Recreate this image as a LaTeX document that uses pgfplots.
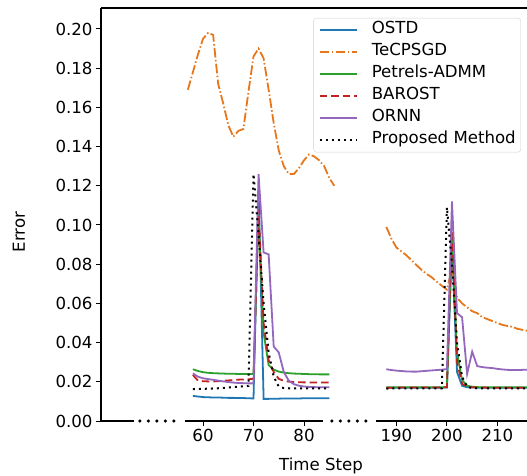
\documentclass[border=0pt]{standalone}
\usepackage{fontspec}
\setmainfont{DejaVu Sans}
\usepackage{pgfplots}
\usepackage{pgfplotstable}
\pgfplotsset{compat=1.18}

\definecolor{cblue}{HTML}{1F77B4}
\definecolor{corange}{HTML}{E8761A}
\definecolor{cgreen}{HTML}{2CA02C}
\definecolor{cred}{HTML}{C0221F}
\definecolor{cpurple}{HTML}{9467BD}

% left segment (time steps as read)
\pgfplotstableread{
x ostd tec pet bar ornn prop
57 nan 0.169 nan nan nan nan
58 0.0128 0.178 0.0264 0.0235 0.0243 0.0162
59 0.0125 0.187 0.0255 0.0206 0.0226 0.0163
60 0.0122 0.195 0.0249 0.0203 0.0218 0.0164
61 0.0121 0.198 0.0246 0.0202 0.0214 0.0165
62 0.0120 0.197 0.0244 0.0202 0.0210 0.0166
63 0.0120 0.172 0.0243 0.0203 0.0206 0.0167
64 0.0119 0.162 0.0242 0.0205 0.0202 0.0169
65 0.0118 0.151 0.0241 0.0207 0.0199 0.0171
66 0.0118 0.145 0.0241 0.0209 0.0196 0.0173
67 0.0117 0.148 0.0240 0.0211 0.0194 0.0175
68 0.0117 0.149 0.0240 0.0212 0.0193 0.0177
69 0.0116 0.168 0.0240 0.0213 0.0192 0.0179
70 0.0115 0.186 0.0240 0.0215 0.0192 0.1260
71 0.1180 0.190 0.1050 0.1080 0.1260 0.0950
72 0.0113 0.185 0.0450 0.0500 0.0860 0.0600
73 0.0113 0.169 0.0285 0.0310 0.0850 0.0350
74 0.0114 0.152 0.0262 0.0250 0.0380 0.0226
75 0.0114 0.138 0.0252 0.0215 0.0350 0.0176
76 0.0115 0.130 0.0247 0.0205 0.0250 0.0168
77 0.0115 0.126 0.0244 0.0201 0.0205 0.0167
78 0.0115 0.126 0.0242 0.0199 0.0188 0.0167
79 0.0115 0.129 0.0241 0.0198 0.0180 0.0167
80 0.0116 0.133 0.0240 0.0197 0.0176 0.0167
81 0.0116 0.136 0.0239 0.0197 0.0174 0.0167
82 0.0116 0.135 0.0239 0.0196 0.0173 0.0167
83 0.0116 0.133 0.0238 0.0196 0.0172 0.0167
84 0.0116 0.130 0.0238 0.0196 0.0172 0.0167
85 0.0116 0.124 0.0238 0.0196 0.0172 0.0167
86 nan 0.120 nan nan nan nan
}\leftdata

% right segment (real time steps; drawn shifted by 91.7 for the axis break)
\pgfplotstableread{
x ostd tec pet bar ornn prop
188 0.0170 0.0990 0.0172 0.0170 0.0264 0.0165
189 0.0170 0.0930 0.0172 0.0170 0.0260 0.0166
190 0.0170 0.0885 0.0172 0.0170 0.0257 0.0166
191 0.0170 0.0865 0.0172 0.0171 0.0255 0.0166
192 0.0170 0.0845 0.0172 0.0171 0.0253 0.0166
193 0.0170 0.0820 0.0172 0.0171 0.0252 0.0166
194 0.0170 0.0795 0.0172 0.0171 0.0252 0.0166
195 0.0170 0.0770 0.0172 0.0171 0.0254 0.0166
196 0.0170 0.0750 0.0172 0.0171 0.0256 0.0166
197 0.0170 0.0733 0.0172 0.0171 0.0258 0.0166
198 0.0170 0.0710 0.0172 0.0171 0.0260 0.0166
199 0.0170 0.0690 0.0172 0.0172 0.0262 0.0167
200 0.0171 0.0670 0.0173 0.0172 0.0265 0.1090
201 0.0900 0.0780 0.0950 0.1000 0.1120 0.0800
202 0.0250 0.0630 0.0350 0.0300 0.0550 0.0400
203 0.0180 0.0600 0.0210 0.0190 0.0530 0.0226
204 0.0172 0.0580 0.0180 0.0175 0.0240 0.0175
205 0.0171 0.0560 0.0175 0.0172 0.0354 0.0168
206 0.0170 0.0550 0.0173 0.0171 0.0280 0.0167
207 0.0170 0.0530 0.0172 0.0171 0.0275 0.0166
208 0.0170 0.0520 0.0172 0.0170 0.0272 0.0166
209 0.0170 0.0510 0.0172 0.0170 0.0270 0.0166
210 0.0170 0.0500 0.0172 0.0170 0.0266 0.0166
211 0.0170 0.0490 0.0172 0.0170 0.0263 0.0166
212 0.0170 0.0485 0.0172 0.0170 0.0261 0.0166
213 0.0170 0.0480 0.0172 0.0170 0.0260 0.0166
214 0.0170 0.0470 0.0172 0.0170 0.0260 0.0166
215 0.0170 0.0465 0.0172 0.0170 0.0261 0.0166
216 0.0170 0.0460 0.0172 0.0170 0.0262 0.0166
217 0.0170 0.0455 0.0172 0.0170 0.0264 0.0166
}\rightdata

\pgfplotsset{
  sOSTD/.style={draw=cblue, line width=1.8pt, solid},
  sTEC/.style={draw=corange, line width=1.8pt, dash pattern=on 9.6pt off 2.4pt on 1.5pt off 2.4pt},
  sPET/.style={draw=cgreen, line width=1.8pt, solid},
  sBAR/.style={draw=cred, line width=1.8pt, dash pattern=on 7.5pt off 4pt},
  sORNN/.style={draw=cpurple, line width=1.8pt, solid},
  sPROP/.style={draw=black, line width=2pt, dash pattern=on 2pt off 4pt},
}

\begin{document}
\begin{tikzpicture}
\useasboundingbox (-101pt,-54pt) rectangle (426pt,421pt);
\begin{axis}[
  at={(0pt,0pt)}, anchor=south west,
  scale only axis, width=440pt, height=413pt,
  xmin=39.8, xmax=126.93, ymin=0, ymax=0.2107,
  axis lines=left, axis line style={-, line width=1.2pt},
  x axis line style={draw=none},
  clip mode=individual,
  tick align=outside, major tick length=5pt,
  every tick/.style={black, line width=1pt},
  xtick={60,70,80,98.3,108.3,118.3},
  xticklabels={60,70,80,190,200,210},
  ytick={0,0.02,0.04,0.06,0.08,0.10,0.12,0.14,0.16,0.18,0.20},
  scaled y ticks=false,
  yticklabel style={/pgf/number format/.cd, fixed, fixed zerofill, precision=2},
  /pgf/number format/assume math mode=true,
  tick label style={font=\fontsize{16.6}{20}\selectfont},
  label style={font=\fontsize{16.6}{20}\selectfont},
  xlabel={Time Step},
  x label style={at={(rel axis cs:0.5,0)}, anchor=base, yshift=-49pt},
  ylabel={Error},
  y label style={at={(rel axis cs:0,0.4576)}, anchor=base, yshift=76pt},
  legend style={at={(rel axis cs:0.9545,0.9758)}, anchor=north east,
    draw=black!18, rounded corners=3pt, fill=white,
    font=\fontsize{16.6}{20}\selectfont, inner xsep=5pt, inner ysep=1pt,
    nodes={inner xsep=0pt, inner ysep=0pt, text height=14pt, text depth=8pt},
    row sep=0pt,
    /tikz/every odd column/.append style={column sep=14pt}},
  legend cell align=left,
  legend image code/.code={\path[#1, line width=2.2pt] (0pt,0pt) -- (37pt,0pt);},
]
\addlegendimage{sOSTD}\addlegendentry{OSTD}
\addlegendimage{sTEC}\addlegendentry{TeCPSGD}
\addlegendimage{sPET}\addlegendentry{Petrels-ADMM}
\addlegendimage{sBAR}\addlegendentry{BAROST}
\addlegendimage{sORNN}\addlegendentry{ORNN}
\addlegendimage{sPROP}\addlegendentry{Proposed Method}
% OSTD
\addplot[sOSTD, forget plot] table[x=x, y=ostd] {\leftdata};
\addplot[sOSTD, forget plot] table[x expr=\thisrow{x}-91.7, y=ostd] {\rightdata};
% TeCPSGD
\addplot[sTEC, forget plot] table[x=x, y=tec] {\leftdata};
\addplot[sTEC, forget plot] table[x expr=\thisrow{x}-91.7, y=tec] {\rightdata};
% Petrels-ADMM
\addplot[sPET, forget plot] table[x=x, y=pet] {\leftdata};
\addplot[sPET, forget plot] table[x expr=\thisrow{x}-91.7, y=pet] {\rightdata};
% BAROST
\addplot[sBAR, forget plot] table[x=x, y=bar] {\leftdata};
\addplot[sBAR, forget plot] table[x expr=\thisrow{x}-91.7, y=bar] {\rightdata};
% ORNN
\addplot[sORNN, forget plot] table[x=x, y=ornn] {\leftdata};
\addplot[sORNN, forget plot] table[x expr=\thisrow{x}-91.7, y=ornn] {\rightdata};
% Proposed
\addplot[sPROP, forget plot] table[x=x, y=prop] {\leftdata};
\addplot[sPROP, forget plot] table[x expr=\thisrow{x}-91.7, y=prop] {\rightdata};
% broken x axis and top spine
\draw[line width=1.2pt] (axis cs:39.8,0) -- (axis cs:46.3,0);
\draw[line width=3.5pt, dash pattern=on 0pt off 8.5pt, line cap=round] (axis cs:47.52,0) -- (axis cs:54.5,0);
\draw[line width=1.2pt] (axis cs:56.43,0) -- (axis cs:83.76,0);
\draw[line width=3.5pt, dash pattern=on 0pt off 8.5pt, line cap=round] (axis cs:85.54,0) -- (axis cs:92.4,0);
\draw[line width=1.2pt] (axis cs:94.27,0) -- (axis cs:126.93,0);
\draw[line width=1.2pt] (rel axis cs:0,1) -- (rel axis cs:1,1);
\end{axis}
\end{tikzpicture}
\end{document}
